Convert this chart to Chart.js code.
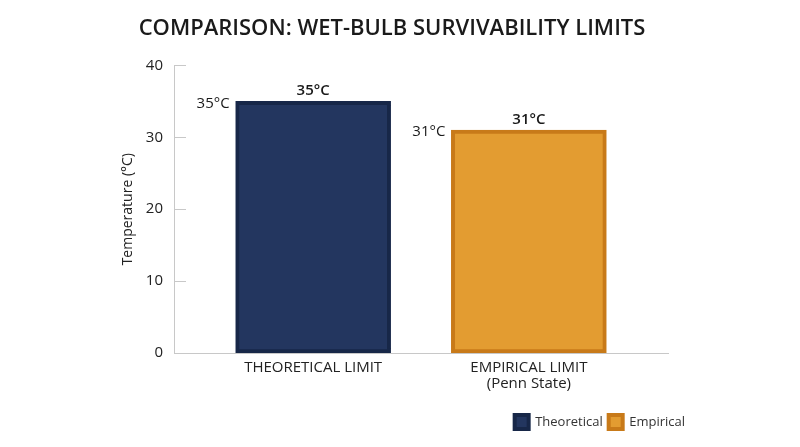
<!DOCTYPE html>
<html>
<head>
<meta charset="utf-8">
<script src="https://cdn.jsdelivr.net/npm/chart.js@4.4.1/dist/chart.umd.min.js"></script>
<style>
html,body{margin:0;padding:0;background:#fff;}
#wrap{width:800px;height:447px;}
</style>
</head>
<body>
<div id="wrap"><canvas id="c" width="800" height="447"></canvas></div>
<script>
const categories = [['THEORETICAL LIMIT'], ['EMPIRICAL LIMIT', '(Penn State)']];
const seriesNames = ['Theoretical', 'Empirical'];
const theoreticalValues = [35];
const empiricalValues = [31];
const valueLabels = ['35°C', '31°C'];
const yTicks = [0, 10, 20, 30, 40];

const FONT = "'Open Sans', 'Lato', sans-serif";

const labelPlugin = {
  id: 'valueLabels',
  afterLayout(chart) {
    if (chart.legend) { chart.legend.left += 23; chart.legend.right += 23; }
  },
  afterDatasetsDraw(chart) {
    const ctx = chart.ctx;
    ctx.save();
    chart.data.datasets.forEach((ds, i) => {
      const meta = chart.getDatasetMeta(i);
      meta.data.forEach((bar) => {
        const txt = valueLabels[i];
        ctx.fillStyle = '#1a1a1a';
        ctx.textBaseline = 'bottom';
        ctx.textAlign = 'center';
        ctx.font = "600 15px " + FONT;
        ctx.fillText(txt, bar.x, bar.y - 3);
        ctx.font = "400 15px " + FONT;
        ctx.textAlign = 'right';
        ctx.textBaseline = 'middle';
        ctx.fillText(txt, bar.x - bar.width / 2 - 6, bar.y + 2);
      });
    });
    const ys = chart.scales.y;
    const xs = chart.scales.x;
    ctx.strokeStyle = '#c8c8c8';
    ctx.lineWidth = 1;
    yTicks.forEach(v => {
      const py = Math.round(ys.getPixelForValue(v)) + 0.5;
      ctx.beginPath();
      ctx.moveTo(xs.left, py);
      ctx.lineTo(xs.left + 12, py);
      ctx.stroke();
    });
    ctx.restore();
  }
};

new Chart(document.getElementById('c'), {
  type: 'bar',
  data: {
    datasets: [
      {
        label: seriesNames[0],
        data: theoreticalValues.map(v => ({x: 0, y: v})),
        backgroundColor: '#23365f',
        borderColor: '#172748',
        borderWidth: 4,
        borderSkipped: false,
        barThickness: 155,
        grouped: false
      },
      {
        label: seriesNames[1],
        data: empiricalValues.map(v => ({x: 1, y: v})),
        backgroundColor: '#e39c31',
        borderColor: '#c87a19',
        borderWidth: 4,
        borderSkipped: false,
        barThickness: 155,
        grouped: false
      }
    ]
  },
  plugins: [labelPlugin],
  options: {
    responsive: false,
    animation: false,
    layout: { padding: { left: 116, right: 132, top: 4, bottom: 8 } },
    plugins: {
      title: {
        display: true,
        text: 'COMPARISON: WET-BULB SURVIVABILITY LIMITS',
        color: '#1a1a1a',
        font: { family: FONT, size: 22, weight: '600' },
        padding: { top: 12, bottom: 23 }
      },
      legend: {
        position: 'bottom',
        align: 'end',
        labels: {
          color: '#333',
          font: { family: FONT, size: 13 },
          boxWidth: 14,
          boxHeight: 14,
          padding: 6
        }
      },
      tooltip: { enabled: false }
    },
    scales: {
      x: {
        type: 'linear',
        offset: false,
        min: -0.645,
        max: 1.645,
        afterBuildTicks(scale) { scale.ticks = [{value: 0}, {value: 1}]; },
        afterFit(scale) { scale.height += 11; },
        ticks: {
          color: '#222',
          font: { family: FONT, size: 15, lineHeight: 1.1 },
          padding: 6,
          autoSkip: false,
          maxRotation: 0,
          callback: (v) => categories[v] || ''
        },
        grid: { display: false, drawTicks: false, tickLength: 0 },
        border: { display: true, color: '#c8c8c8' }
      },
      y: {
        min: 0,
        max: 40,
        afterBuildTicks(scale) { scale.ticks = yTicks.map(v => ({value: v})); },
        afterFit(scale) { scale.width = 58; },
        title: {
          display: true,
          text: 'Temperature (°C)',
          color: '#222',
          font: { family: FONT, size: 14 },
          padding: { bottom: 6 }
        },
        ticks: {
          color: '#222',
          font: { family: FONT, size: 15 },
          padding: 11
        },
        grid: { display: false, drawTicks: false, tickLength: 0 },
        border: { display: true, color: '#c8c8c8' }
      }
    }
  }
});
</script>
</body>
</html>
